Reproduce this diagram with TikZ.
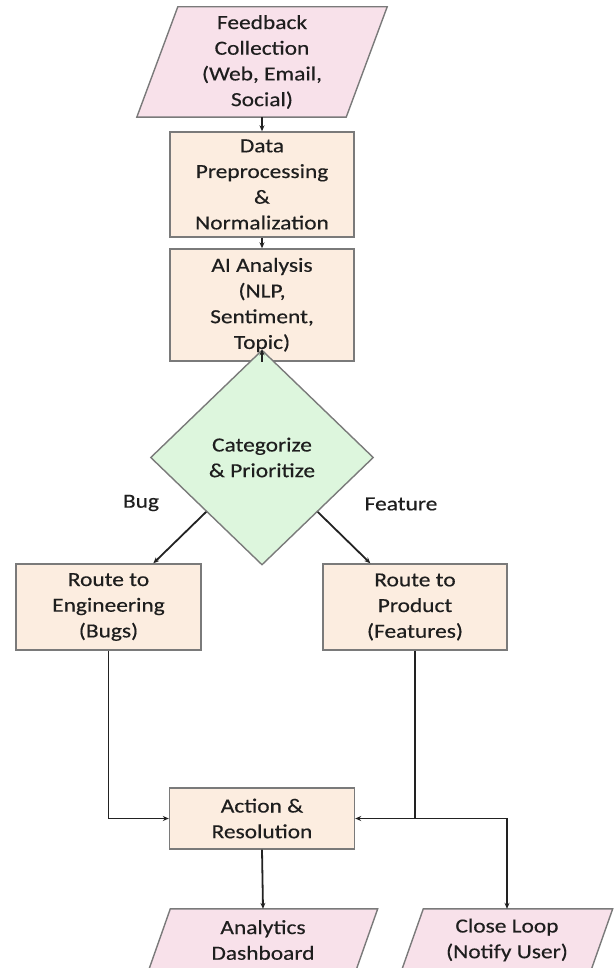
\documentclass[tikz,border=0pt]{standalone}
\usepackage{fontspec}
\setmainfont{Carlito}[FakeStretch=1.17,FakeBold=0.4]
\usetikzlibrary{shapes.geometric,arrows.meta,calc,backgrounds}
\definecolor{boxfill}{HTML}{FCEDE0}
\definecolor{pinkfill}{HTML}{F8E1EA}
\definecolor{greenfill}{HTML}{DDF6DD}
\definecolor{edgegray}{HTML}{7A7A7A}
\definecolor{txt}{HTML}{1E1E1E}
\definecolor{linecol}{HTML}{222222}
\tikzset{
  every node/.style={font=\fontsize{20}{25.7}\selectfont, text=txt},
  procbox/.style={draw=edgegray, line width=1.4pt, fill=boxfill, rectangle, align=center, inner sep=0pt},
  paratext/.style={rectangle, align=center, inner sep=0pt},
  parashape/.style={draw=edgegray, line width=1.4pt, fill=pinkfill},
  decision/.style={draw=edgegray, line width=1.4pt, fill=greenfill, diamond, align=center, inner sep=0pt},
  arr/.style={draw=linecol, line width=1.8pt, -{Stealth[length=6pt,width=5pt]}},
  lbl/.style={inner sep=0pt}
}
\begin{document}
\begin{tikzpicture}[x=1pt,y=-1pt]
\useasboundingbox (0,0) rectangle (613,968);
\clip (0,0) rectangle (613,968);

% parallelogram text holders
\node[paratext, minimum width=209pt, minimum height=110pt] (fb) at (262,62) {Feedback\\Collection\\(Web, Email,\\Social)};
\node[paratext, minimum width=207pt, minimum height=62pt] (dash) at (263,940) {Analytics\\Dashboard};
\node[paratext, minimum width=189pt, minimum height=62pt] (close) at (507,940) {Close Loop\\(Notify User)};

\begin{scope}[on background layer]
  \filldraw[parashape] ($(fb.north west)+(20.5,0)$) -- ($(fb.north east)+(20.5,0)$) -- ($(fb.south east)+(-20.5,0)$) -- ($(fb.south west)+(-20.5,0)$) -- cycle;
  \filldraw[parashape] ($(dash.north west)+(11,0)$) -- ($(dash.north east)+(11,0)$) -- ($(dash.south east)+(-11,0)$) -- ($(dash.south west)+(-11,0)$) -- cycle;
  \filldraw[parashape] ($(close.north west)+(11,0)$) -- ($(close.north east)+(11,0)$) -- ($(close.south east)+(-11,0)$) -- ($(close.south west)+(-11,0)$) -- cycle;
\end{scope}

% process boxes
\node[procbox, minimum width=184pt, minimum height=105pt] (data) at (262,184.5) {Data\\Preprocessing\\\&\\Normalization};
\node[procbox, minimum width=184pt, minimum height=112pt] (ai) at (262,305) {AI Analysis\\(NLP,\\Sentiment,\\Topic)};
\node[procbox, minimum width=185pt, minimum height=86pt] (eng) at (108.5,607) {Route to\\Engineering\\(Bugs)};
\node[procbox, minimum width=184pt, minimum height=86pt] (prod) at (415,607) {Route to\\Product\\(Features)};
\node[procbox, minimum width=185pt, minimum height=61pt] (act) at (262,818.5) {Action \&\\Resolution};

% decision
\node[decision, minimum width=223pt, minimum height=215pt] (dec) at (262,457.5) {Categorize\\\& Prioritize};

% labels
\node[lbl] (bug) at (141,503) {Bug};
\node[lbl] (feat) at (401,504) {Feature};

% connectors
\draw[arr] (fb.south) -- (data.north);
\draw[arr] (data.south) -- (ai.north);
\draw[arr] (ai.south) -- (dec.north);
\draw[arr] (dec) -- (eng);
\draw[arr] (dec) -- (prod);
\draw[arr] (eng.south) |- (act.west);
\draw[arr] (prod.south) |- (act.east);
\draw[arr] (prod.south |- act.east) -| (close.north);
\draw[arr] (act.south) -- (dash.north);
\end{tikzpicture}
\end{document}
